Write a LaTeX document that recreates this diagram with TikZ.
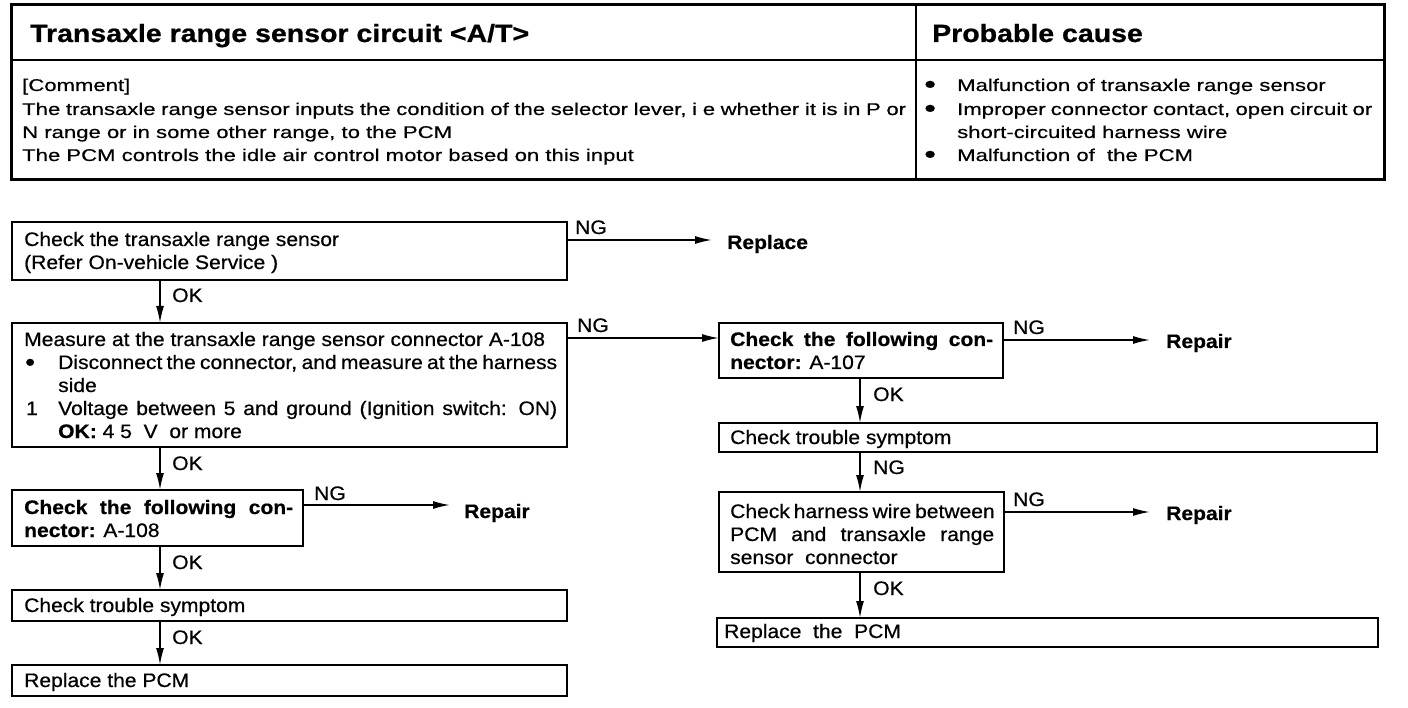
\documentclass[tikz,border=0pt]{standalone}
\usepackage{fontspec}
\setmainfont{Liberation Sans}
\newfontfamily\flowf[FakeStretch=1.08,FakeBold=0.6]{Liberation Sans}
\newfontfamily\bodyf[FakeStretch=1.3,FakeBold=0.5]{Liberation Sans}
\newfontfamily\titlef[FakeStretch=1.14,FakeBold=0.8]{Liberation Sans}
\usetikzlibrary{arrows.meta}
\begin{document}
\begin{tikzpicture}[x=1pt,y=-1pt,
 box/.style={draw, line width=2pt, anchor=north west, inner sep=0pt, outer sep=0pt},
 ft/.style={anchor=base west, inner sep=0pt, font=\flowf\fontsize{19.5}{23}\selectfont},
 bt/.style={anchor=base west, inner sep=0pt, font=\bodyf\fontsize{17}{23}\selectfont},
 tt/.style={anchor=base west, inner sep=0pt, font=\titlef\bfseries\fontsize{25}{30}\selectfont},
 arr/.style={line width=1.6pt, -{Latex[length=17pt,width=8pt]}},
]
\newcommand\bigbul{{\fontsize{26}{23}\selectfont\textbullet}}
\useasboundingbox (0,0) rectangle (1408,708);
% ---------- header table ----------
\draw[line width=3pt] (11,5) rectangle (1384,180);
\draw[line width=1.5pt] (11,60) -- (1384,60);
\draw[line width=1.5pt] (916,5) -- (916,180);
\node[tt] (title) at (30,42) {Transaxle range sensor circuit <A/T>};
\node[tt] (ptitle) at (932,42) {Probable cause};
\node[bt] (c1) at (22,91) {[Comment]};
\node[bt] (c2) at (22,115) {\makebox[884pt][s]{The transaxle range sensor inputs the condition of the selector lever, i e  whether it is in P or}};
\node[bt] (c3) at (22,138) {N range or in some other range, to the PCM};
\node[bt] (c4) at (22,161) {The PCM controls the idle air control motor based on this input};
\node[bt] (pb1) at (924,93) {\bigbul};
\node[bt] (pb2) at (924,117) {\bigbul};
\node[bt] (pb3) at (924,163) {\bigbul};
\node[bt] (p1) at (957,91) {Malfunction of transaxle range sensor};
\node[bt] (p2) at (957,115) {\makebox[415pt][s]{Improper connector contact, open circuit or}};
\node[bt] (p3) at (957,138) {short-circuited harness wire};
\node[bt] (p4) at (957,161) {Malfunction of \ the PCM};
% ---------- boxes ----------
\node[box, minimum width=555pt, minimum height=58pt] (b1) at (12,222) {};
\node[box, minimum width=555pt, minimum height=124pt] (b2) at (12,323) {};
\node[box, minimum width=291pt, minimum height=56pt] (b3) at (12,490) {};
\node[box, minimum width=555pt, minimum height=31pt] (b4) at (12,590) {};
\node[box, minimum width=555pt, minimum height=31pt] (b5) at (12,665) {};
\node[box, minimum width=284pt, minimum height=55pt] (b6) at (719,323) {};
\node[box, minimum width=658pt, minimum height=29pt] (b7) at (719,423) {};
\node[box, minimum width=285pt, minimum height=80pt] (b8) at (719,492) {};
\node[box, minimum width=661pt, minimum height=29pt] (b9) at (717,618) {};
% ---------- box texts ----------
\node[ft] (t1a) at (24,246) {Check the transaxle range sensor};
\node[ft] (t1b) at (24,269) {(Refer On-vehicle Service )};
\node[ft] (t2a) at (24,346) {Measure at the transaxle range sensor connector A-108};
\node[ft] (t2bb) at (25,371) {\bigbul};
\node[ft] (t2b) at (58,369) {\makebox[499pt][s]{Disconnect the connector, and measure at the harness}};
\node[ft] (t2c) at (58,392) {side};
\node[ft] (t2dn) at (26,415) {1};
\node[ft] (t2d) at (58,415) {\makebox[499pt][s]{Voltage between 5 and ground (Ignition switch: ON)}};
\node[ft] (t2e) at (58,438) {\textbf{OK:} 4 5 \ V \ or more};
\node[ft] (t3a) at (24,514) {\makebox[269pt][s]{\bfseries Check the following con-}};
\node[ft] (t3b) at (24,537) {\textbf{nector:} A-108};
\node[ft] (t4) at (24,612) {Check trouble symptom};
\node[ft] (t5) at (24,687) {Replace the PCM};
\node[ft] (t6a) at (730,346) {\makebox[263pt][s]{\bfseries Check the following con-}};
\node[ft] (t6b) at (730,369) {\textbf{nector:} A-107};
\node[ft] (t7) at (730,444) {Check trouble symptom};
\node[ft] (t8a) at (730,518) {\makebox[264pt][s]{Check harness wire between}};
\node[ft] (t8b) at (730,541) {\makebox[264pt][s]{PCM and transaxle range}};
\node[ft] (t8c) at (730,564) {sensor \ connector};
\node[ft] (t9) at (724,638) {Replace \ the \ PCM};
% ---------- connectors ----------
\coordinate (cL) at (160,0);
\coordinate (cR) at (860,0);
\draw[arr] (b1.south -| cL) -- (b2.north -| cL);
\draw[arr] (b2.south -| cL) -- (b3.north -| cL);
\draw[arr] (b3.south -| cL) -- (b4.north -| cL);
\draw[arr] (b4.south -| cL) -- (b5.north -| cL);
\draw[arr] (b6.south -| cR) -- (b7.north -| cR);
\draw[arr] (b7.south -| cR) -- (b8.north -| cR);
\draw[arr] (b8.south -| cR) -- (b9.north -| cR);
\node[ft] (ok1) at (172,302) {OK};
\node[ft] (ok2) at (172,470) {OK};
\node[ft] (ok3) at (172,569) {OK};
\node[ft] (ok4) at (172,644) {OK};
\node[ft] (ok5) at (873,401) {OK};
\node[ft] (ng5) at (873,474) {NG};
\node[ft] (ok6) at (873,595) {OK};
\coordinate (n1) at (712,240);
\coordinate (n2) at (0,338);
\coordinate (n3) at (450,505);
\coordinate (n4) at (1150,340);
\coordinate (n5) at (1150,512);
\draw[arr] (b1.east |- n1) -- (n1);
\draw[arr] (b2.east |- n2) -- (b6.west |- n2);
\draw[arr] (b3.east |- n3) -- (n3);
\draw[arr] (b6.east |- n4) -- (n4);
\draw[arr] (b8.east |- n5) -- (n5);
\node[ft] (ng1) at (575,234) {NG};
\node[ft] (ng2) at (577,332) {NG};
\node[ft] (ng3) at (314,500) {NG};
\node[ft] (ng4) at (1013,334) {NG};
\node[ft] (ng6) at (1013,506) {NG};
\node[ft, font=\flowf\bfseries\fontsize{19.5}{23}\selectfont] (rp1) at (727,249) {Replace};
\node[ft, font=\flowf\bfseries\fontsize{19.5}{23}\selectfont] (rp2) at (464,518) {Repair};
\node[ft, font=\flowf\bfseries\fontsize{19.5}{23}\selectfont] (rp3) at (1166,348) {Repair};
\node[ft, font=\flowf\bfseries\fontsize{19.5}{23}\selectfont] (rp4) at (1166,520) {Repair};
\end{tikzpicture}
\end{document}
